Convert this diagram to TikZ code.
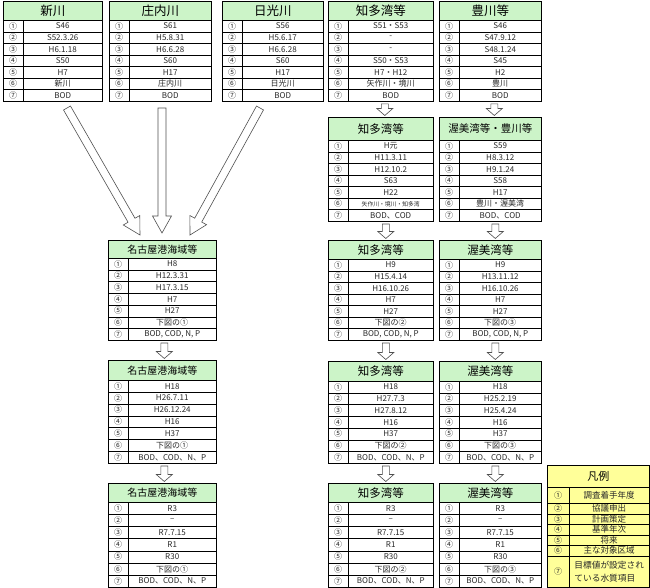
\documentclass[tikz,border=0pt]{standalone}
\usepackage{fontspec}
\setmainfont{Noto Sans CJK JP}
\usetikzlibrary{calc}
\definecolor{hdrgreen}{RGB}{204,244,200}
\definecolor{lgyellow}{RGB}{255,255,153}
\definecolor{arrgray}{RGB}{80,80,80}
\definecolor{txtgray}{RGB}{40,40,40}

\tikzset{
  hdr/.style={draw=black, line width=0.6pt, fill=hdrgreen, inner sep=0pt, anchor=north west},
  numcell/.style={draw=black, line width=0.45pt, inner sep=0pt, anchor=north west, text=txtgray, font=\fontsize{8}{8}\selectfont},
  valcell/.style={draw=black, line width=0.45pt, inner sep=0pt, anchor=north west, text=txtgray, font=\fontsize{8}{8}\selectfont},
  tframe/.style={draw=black, line width=0.9pt},
  blockarr/.style={draw=arrgray, line width=0.6pt, fill=white, line join=miter},
}

\newcommand\cnum[1]{\ifcase#1\or ①\or ②\or ③\or ④\or ⑤\or ⑥\or ⑦\fi}

% name, x1, x2, ytop, yhead, ybot, title, values
\newcommand\mktable[8]{%
  \pgfmathsetmacro\tw{#3-#2}%
  \pgfmathsetmacro\hh{#5-#4}%
  \pgfmathsetmacro\rh{(#6-#5)/7}%
  \pgfmathsetmacro\vw{#3-#2-20}%
  \node[hdr, minimum width=\tw pt, minimum height=\hh pt] (#1-h) at (#2,#4) {#7};
  \foreach \v [count=\i] in {#8} {
    \pgfmathsetmacro\yy{#5+(\i-1)*\rh}
    \node[numcell, minimum width=20pt, minimum height=\rh pt] (#1-n\i) at (#2,\yy) {\cnum{\i}};
    \node[valcell, minimum width=\vw pt, minimum height=\rh pt] (#1-v\i) at (#2+20,\yy) {\v};
  }
  \draw[tframe] (#1-h.north west) rectangle (#1-v7.south east);
  \coordinate (#1-b) at (#1-h.center |- #1-v7.south);
}

% name, from, to, shaft half width, head half width, head length
\newcommand\blockarrow[6]{%
  \coordinate (#1-hb) at ($(#3)!#6!(#2)$);
  \draw[blockarr] ($(#2)!#4!90:(#3)$) -- ($(#1-hb)!#4!90:(#3)$) -- ($(#1-hb)!#5!90:(#3)$)
    -- (#3) -- ($(#1-hb)!#5!-90:(#3)$) -- ($(#1-hb)!#4!-90:(#3)$) -- ($(#2)!#4!-90:(#3)$) -- cycle;
}

\def\hA{\fontsize{12.5}{12.5}\selectfont}
\def\hB{\fontsize{11.5}{11.5}\selectfont}
\def\hC{\fontsize{10}{10}\selectfont}

\begin{document}
\begin{tikzpicture}[x=1pt,y=-1pt]
\fill[white] (0,0) rectangle (650,588);
\useasboundingbox (0,0) rectangle (650,588);

% ---- top row
\mktable{shin}{3}{102}{1}{20}{101}{\hA 新川}{S46,S52.3.26,H6.1.18,S50,H7,新川,BOD}
\mktable{shonai}{109}{211}{1}{20}{101}{\hA 庄内川}{S61,H5.8.31,H6.6.28,S60,H17,庄内川,BOD}
\mktable{nikko}{222}{323}{1}{20}{101}{\hA 日光川}{S56,H5.6.17,H6.6.28,S60,H17,日光川,BOD}
\mktable{chitaA}{328}{433}{1}{20}{101}{\hA 知多湾等}{S51・S53,-,-,S50・S53,H7・H12,矢作川・境川,BOD}
\mktable{toyoA}{439}{541}{1}{20}{101}{\hA 豊川等}{S46,S47.9.12,S48.1.24,S45,H2,豊川,BOD}

% ---- second row (right)
\mktable{chitaB}{328}{433}{117}{140}{221}{\hB 知多湾等}{H元,H11.3.11,H12.10.2,S63,H22,\fontsize{5.8}{6}\selectfont 矢作川・境川・知多湾,BOD、COD}
\mktable{atsuB}{439}{541}{117}{140}{221}{\fontsize{10.5}{10.5}\selectfont 渥美湾等・豊川等}{S59,H8.3.12,H9.1.24,S58,H17,豊川・渥美湾,BOD、COD}

% ---- third row
\mktable{nagoC}{108}{216}{240}{258}{340}{\hC 名古屋港海域等}{H8,H12.3.31,H17.3.15,H7,H27,下図の①,{BOD, COD, N, P}}
\mktable{chitaC}{328}{433}{240}{259}{340}{\hB 知多湾等}{H9,H15.4.14,H16.10.26,H7,H27,下図の②,{BOD, COD, N, P}}
\mktable{atsuC}{439}{541}{240}{259}{340}{\hB 渥美湾等}{H9,H13.11.12,H16.10.26,H7,H27,下図の③,{BOD, COD, N, P}}

% ---- fourth row
\mktable{nagoD}{108}{216}{360}{380}{463}{\hC 名古屋港海域等}{H18,H26.7.11,H26.12.24,H16,H37,下図の①,BOD、COD、N、P}
\mktable{chitaD}{328}{433}{361}{381}{463}{\hB 知多湾等}{H18,H27.7.3,H27.8.12,H16,H37,下図の②,BOD、COD、N、P}
\mktable{atsuD}{439}{541}{361}{381}{463}{\hB 渥美湾等}{H18,H25.2.19,H25.4.24,H16,H37,下図の③,BOD、COD、N、P}

% ---- fifth row
\mktable{nagoE}{108}{216}{483}{502}{587}{\hC 名古屋港海域等}{R3,–,R7.7.15,R1,R30,下図の①,BOD、COD、N、P}
\mktable{chitaE}{328}{433}{483}{502}{587}{\hB 知多湾等}{R3,–,R7.7.15,R1,R30,下図の②,BOD、COD、N、P}
\mktable{atsuE}{439}{541}{483}{502}{587}{\hB 渥美湾等}{R3,–,R7.7.15,R1,R30,下図の③,BOD、COD、N、P}

% ---- legend
\node[hdr, fill=lgyellow, minimum width=102pt, minimum height=22pt] (lg-h) at (547,465) {\fontsize{11}{11}\selectfont 凡例};
\foreach \i/\y/\h/\t in {1/487/16/調査着手年度, 2/503/10.5/協議申出, 3/513.5/10.5/計画策定, 4/524/10.5/基準年次, 5/534.5/10.5/将来, 6/545/10.5/主な対象区域} {
  \node[numcell, fill=lgyellow, minimum width=22pt, minimum height=\h pt] (lg-n\i) at (547,\y) {\cnum{\i}};
  \node[valcell, fill=lgyellow, minimum width=80pt, minimum height=\h pt, font=\fontsize{8.5}{8.5}\selectfont] (lg-v\i) at (569,\y) {\t};
}
\node[numcell, fill=lgyellow, minimum width=22pt, minimum height=31.5pt] (lg-n7) at (547,555.5) {\cnum{7}};
\node[valcell, fill=lgyellow, minimum width=80pt, minimum height=31.5pt, align=left, font=\fontsize{8.7}{13}\selectfont] (lg-v7) at (569,555.5) {目標値が設定され\\ている水質項目};
\draw[tframe] (lg-h.north west) rectangle (lg-v7.south east);

% ---- big arrows into 名古屋港海域等
\coordinate (a1s) at (67,108);  \coordinate (a1e) at (140,235);
\coordinate (a2s) at (162,108); \coordinate (a2e) at (162,233);
\coordinate (a3s) at (260,108); \coordinate (a3e) at (190,235);
\blockarrow{A1}{a1s}{a1e}{4pt}{9.5pt}{17pt}
\blockarrow{A2}{a2s}{a2e}{4pt}{9.5pt}{17pt}
\blockarrow{A3}{a3s}{a3e}{4pt}{9.5pt}{17pt}

% ---- small arrows
\foreach \up/\dn/\dx in {chitaA/chitaB/4, toyoA/atsuB/4, chitaB/chitaC/5, atsuB/atsuC/5,
    nagoC/nagoD/2, chitaC/chitaD/5, atsuC/atsuD/5, nagoD/nagoE/2, chitaD/chitaE/5, atsuD/atsuE/5} {
  \coordinate (\up-as) at ($(\up-b)+(\dx,2.5)$);
  \coordinate (\up-ae) at ($(\dn-h.north)+(\dx,-1.5)$);
  \blockarrow{\up-sa}{\up-as}{\up-ae}{3.5pt}{8pt}{7pt}
}
\end{tikzpicture}
\end{document}
